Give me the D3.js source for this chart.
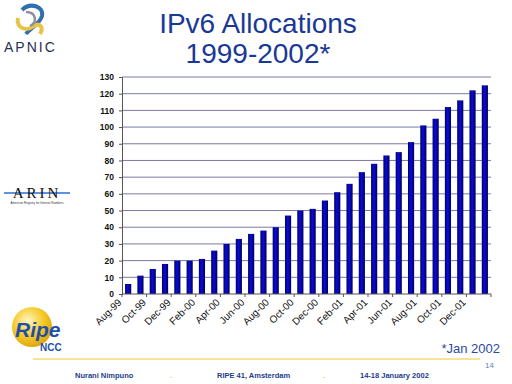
<!DOCTYPE html>
<html>
<head>
<meta charset="utf-8">
<script src="https://cdn.jsdelivr.net/npm/d3@7"></script>
<style>
  html, body { margin: 0; padding: 0; background: #fff; }
  svg { display: block; font-family: "Liberation Sans", Arial, sans-serif; }
</style>
</head>
<body>
<div id="chart"></div>
<script>
// monthly IPv6 allocations, Aug-99 .. Jan-02
var months = ['Aug-99','Sep-99','Oct-99','Nov-99','Dec-99',
  'Jan-00','Feb-00','Mar-00','Apr-00','May-00','Jun-00','Jul-00','Aug-00','Sep-00','Oct-00','Nov-00','Dec-00',
  'Jan-01','Feb-01','Mar-01','Apr-01','May-01','Jun-01','Jul-01','Aug-01','Sep-01','Oct-01','Nov-01','Dec-01',
  'Jan-02'];
var allocations = [6, 11, 15, 18, 20, 20, 21, 26, 30, 33, 36, 38, 40, 47, 50,
  51, 56, 61, 66, 73, 78, 83, 85, 91, 101, 105, 112, 116, 122, 125];
var yTicks = d3.range(0, 131, 10);
var titleLines = ['IPv6 Allocations', '1999-2002*'];
var footerItems = ['Nurani Nimpuno', 'RIPE 41, Amsterdam', '14-18 January 2002'];

var w = 512, h = 384;
var svg = d3.select('#chart').append('svg')
  .attr('width', w)
  .attr('height', h);

svg.append('rect').attr('width', w).attr('height', h).attr('fill', '#fff');

var defs = svg.append('defs');
var grad = defs.append('linearGradient').attr('id', 'barGrad')
  .attr('x1', '0%').attr('x2', '100%').attr('y1', '0%').attr('y2', '0%');
grad.append('stop').attr('offset', '0%').attr('stop-color', '#000060');
grad.append('stop').attr('offset', '45%').attr('stop-color', '#0a0ae0');
grad.append('stop').attr('offset', '100%').attr('stop-color', '#000050');

// Title
svg.selectAll('text.title')
  .data(titleLines)
  .enter().append('text')
  .attr('class', 'title')
  .attr('x', 258)
  .attr('y', function(d, i) { return 33 + i * 30; })
  .attr('text-anchor', 'middle')
  .attr('font-size', 28)
  .attr('fill', '#1a3896')
  .text(function(d) { return d; });

// Scales
var x = d3.scaleBand()
  .domain(months)
  .range([122, 491])
  .paddingInner(0.5)
  .paddingOuter(0.25);

var y = d3.scaleLinear()
  .domain([0, 130])
  .range([294, 77]);

// Gridlines
svg.append('g')
  .selectAll('line')
  .data(yTicks.filter(function(d) { return d > 0; }))
  .enter().append('line')
  .attr('x1', 122).attr('x2', 491)
  .attr('y1', function(d) { return y(d); })
  .attr('y2', function(d) { return y(d); })
  .attr('stroke', '#7a7aa6')
  .attr('stroke-width', 1);

// Y axis
var yAxis = svg.append('g')
  .attr('transform', 'translate(122,0)')
  .call(d3.axisLeft(y).tickValues(yTicks).tickSize(3).tickPadding(5));
yAxis.select('.domain').attr('stroke', '#555');
yAxis.selectAll('.tick line').attr('stroke', '#555');
yAxis.selectAll('text')
  .attr('font-size', 8.5)
  .attr('font-weight', 'bold')
  .attr('font-family', '"Liberation Sans", Arial, sans-serif')
  .attr('fill', '#111');

// Bars
svg.append('g')
  .selectAll('rect')
  .data(allocations)
  .enter().append('rect')
  .attr('x', function(d, i) { return x(months[i]); })
  .attr('width', x.bandwidth())
  .attr('y', function(d) { return y(d); })
  .attr('height', function(d) { return y(0) - y(d); })
  .attr('fill', 'url(#barGrad)');

// X axis line + tick marks every 2 months
var step = x.step();
svg.append('line')
  .attr('x1', 122).attr('x2', 491)
  .attr('y1', y(0)).attr('y2', y(0))
  .attr('stroke', '#555');
svg.append('g')
  .selectAll('line')
  .data(d3.range(0, months.length + 1, 2))
  .enter().append('line')
  .attr('x1', function(d) { return 122 + d * step; })
  .attr('x2', function(d) { return 122 + d * step; })
  .attr('y1', y(0)).attr('y2', y(0) + 3)
  .attr('stroke', '#555');

// X labels every other month
svg.append('g')
  .selectAll('text')
  .data(months.filter(function(d, i) { return i % 2 === 0 && i < 29; }))
  .enter().append('text')
  .attr('transform', function(d) {
    var cx = x(d) + x.bandwidth() / 2 - 6;
    return 'translate(' + cx + ',' + 303 + ') rotate(-45)';
  })
  .attr('text-anchor', 'end')
  .attr('font-size', 10)
  .attr('fill', '#111')
  .text(function(d) { return d; });

// APNIC logo
var apnic = svg.append('g');
apnic.append('path')
  .attr('d', 'M22,10 C30,2 44,6 42,16 C40,24 30,28 26,34')
  .attr('fill', 'none').attr('stroke', '#2f6fb0').attr('stroke-width', 4);
apnic.append('path')
  .attr('d', 'M18,18 C16,28 26,32 34,26 C40,22 44,28 40,34')
  .attr('fill', 'none').attr('stroke', '#e8c34a').attr('stroke-width', 4);
apnic.append('path')
  .attr('d', 'M26,12 C36,12 38,22 30,26')
  .attr('fill', 'none').attr('stroke', '#8a8f9a').attr('stroke-width', 2.5);
apnic.append('text')
  .attr('x', 4).attr('y', 52)
  .attr('font-size', 14)
  .attr('letter-spacing', 2)
  .attr('fill', '#2a3050')
  .text('APNIC');

// ARIN logo
var arin = svg.append('g');
arin.append('line')
  .attr('x1', 4).attr('x2', 70).attr('y1', 193).attr('y2', 193)
  .attr('stroke', '#2a6fd6').attr('stroke-width', 1.5);
arin.append('text')
  .attr('x', 37).attr('y', 198)
  .attr('text-anchor', 'middle')
  .attr('font-family', '"Liberation Serif", serif')
  .attr('font-size', 15)
  .attr('letter-spacing', 3)
  .attr('fill', '#111')
  .text('ARIN');
arin.append('text')
  .attr('x', 37).attr('y', 204)
  .attr('text-anchor', 'middle')
  .attr('font-size', 3)
  .attr('fill', '#333')
  .text('American Registry for Internet Numbers');

// RIPE NCC logo
var ripe = svg.append('g');
var ball = defs.append('radialGradient').attr('id', 'ballGrad')
  .attr('cx', '40%').attr('cy', '35%').attr('r', '65%');
ball.append('stop').attr('offset', '0%').attr('stop-color', '#fff6c0');
ball.append('stop').attr('offset', '60%').attr('stop-color', '#f5c928');
ball.append('stop').attr('offset', '100%').attr('stop-color', '#e0a810');
ripe.append('circle')
  .attr('cx', 32).attr('cy', 327).attr('r', 20)
  .attr('fill', 'url(#ballGrad)');
ripe.append('text')
  .attr('x', 15).attr('y', 337)
  .attr('font-size', 21)
  .attr('font-weight', 'bold')
  .attr('font-style', 'italic')
  .attr('fill', '#1f4fa8')
  .text('Ripe');
ripe.append('text')
  .attr('x', 40).attr('y', 351)
  .attr('font-size', 10)
  .attr('font-weight', 'bold')
  .attr('fill', '#1f4fa8')
  .text('NCC');

// Footer
svg.append('line')
  .attr('x1', 33).attr('x2', 480).attr('y1', 359).attr('y2', 359)
  .attr('stroke', '#f0c830').attr('stroke-width', 1);
svg.append('text')
  .attr('x', 500).attr('y', 353)
  .attr('text-anchor', 'end')
  .attr('font-size', 13)
  .attr('fill', '#2a4aa0')
  .text('*Jan 2002');
svg.append('text')
  .attr('x', 494).attr('y', 368)
  .attr('text-anchor', 'end')
  .attr('font-size', 8)
  .attr('fill', '#6a7fb0')
  .text('14');

var footerX = [75, 217, 360];
svg.append('g')
  .selectAll('text')
  .data(footerItems)
  .enter().append('text')
  .attr('x', function(d, i) { return footerX[i]; })
  .attr('y', 378)
  .attr('font-size', 7.5)
  .attr('font-weight', 'bold')
  .attr('fill', '#1c3c8c')
  .text(function(d) { return d; });
svg.append('g')
  .selectAll('text')
  .data([170, 323])
  .enter().append('text')
  .attr('x', function(d) { return d; })
  .attr('y', 378)
  .attr('font-size', 8)
  .attr('font-weight', 'bold')
  .attr('fill', '#e8c84a')
  .text('.');
</script>
</body>
</html>
